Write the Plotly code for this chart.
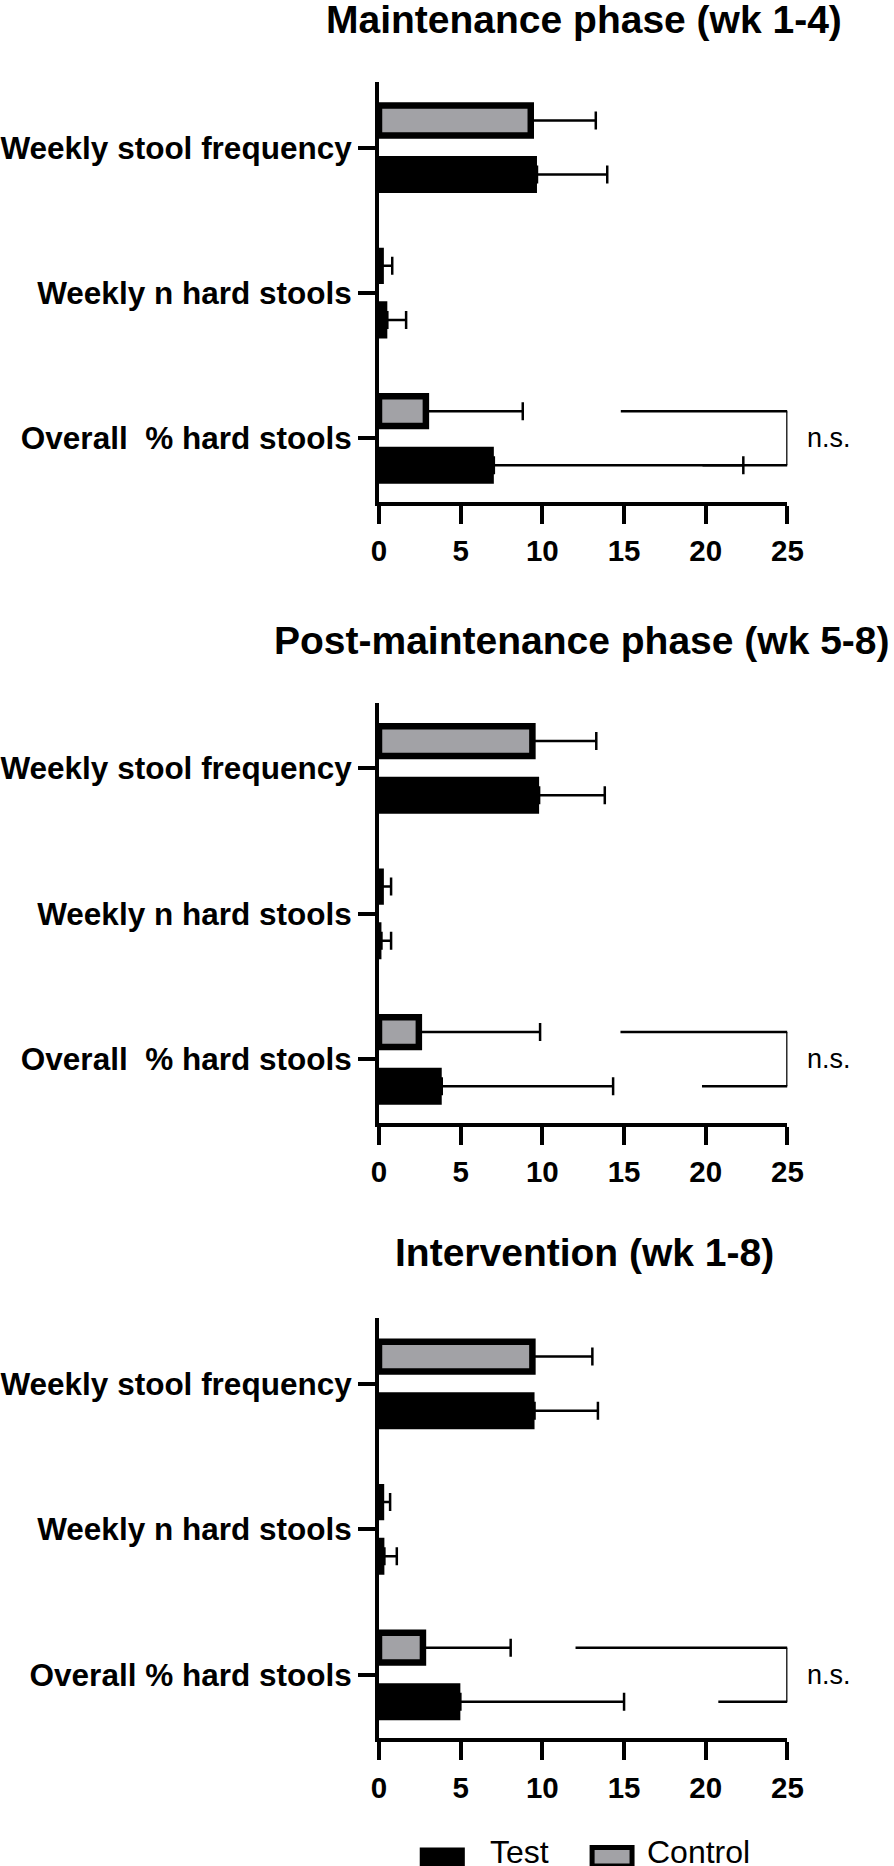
import plotly.graph_objects as go

W, H = 894, 1866          # reference frame (pixels of the target picture)
FIG_W = 909               # rendered width (the capture is squeezed into 894 px)

# ---------------- data ----------------
categories_p12 = ["Weekly stool frequency", "Weekly n hard stools", "Overall\u00a0 % hard stools"]
categories_p3 = ["Weekly stool frequency", "Weekly n hard stools", "Overall % hard stools"]
panel_titles = ["Maintenance phase (wk 1-4)", "Post-maintenance phase (wk 5-8)", "Intervention (wk 1-8)"]
series_names = ["Test", "Control"]

test_mean_p1 = [9.67, 0.51, 7.03]
test_sd_p1 = [4.30, 1.15, 15.27]
control_mean_p1 = [9.29, 0.10, 2.87]
control_sd_p1 = [3.98, 0.71, 5.93]

test_mean_p2 = [9.80, 0.15, 3.84]
test_sd_p2 = [4.02, 0.59, 10.49]
control_mean_p2 = [9.39, 0.10, 2.44]
control_sd_p2 = [3.91, 0.64, 7.42]

test_mean_p3 = [9.52, 0.33, 4.98]
test_sd_p3 = [3.88, 0.76, 10.02]
control_mean_p3 = [9.39, 0.12, 2.69]
control_sd_p3 = [3.67, 0.56, 5.37]

bracket_top_start = [14.8, 14.78, 12.03]
bracket_bottom_start = [19.8, 19.77, 20.77]
bracket_end = 25
sig_labels = ["n.s.", "n.s.", "n.s."]
x_ticks = [0, 5, 10, 15, 20, 25]

# ---------------- styling / layout ----------------
FONT = "Liberation Sans, Arial, Helvetica, sans-serif"
GRAY = "#a2a2a6"
px_x = lambda p: p / W
px_y = lambda p: 1 - p / H

plot_left, plot_right = 373.0, 787.0
panel_tops = [82.0, 702.5, 1318.0]
panel_bottoms = [501.7, 1122.7, 1738.3]
title_y = [20.0, 640.0, 1252.0]
title_x = [581.0, 579.0, 581.0]

cat_off = 0.186
test_w = 0.255
ctrl_w = 0.205
y_range = [2.437, -0.451]

panels = [
    (categories_p12, test_mean_p1, test_sd_p1, control_mean_p1, control_sd_p1),
    (categories_p12, test_mean_p2, test_sd_p2, control_mean_p2, control_sd_p2),
    (categories_p3, test_mean_p3, test_sd_p3, control_mean_p3, control_sd_p3),
]

fig = go.Figure()
shapes = []
annotations = []

for i, (cats, tm, tsd, cm, csd) in enumerate(panels):
    n = "" if i == 0 else str(i + 1)
    xa, ya = "x" + n, "y" + n
    fig.add_trace(go.Bar(
        orientation="h", y=cats, x=tm, name=series_names[0], xaxis=xa, yaxis=ya,
        width=test_w, offset=cat_off - test_w / 2,
        marker=dict(color="black", line=dict(width=0)),
        error_x=dict(type="data", array=tsd, arrayminus=[0] * len(tsd), symmetric=False,
                     color="black", thickness=2.5, width=9),
        showlegend=False,
    ))
    fig.add_trace(go.Bar(
        orientation="h", y=cats, x=cm, name=series_names[1], xaxis=xa, yaxis=ya,
        width=ctrl_w, offset=-cat_off - ctrl_w / 2,
        marker=dict(color=GRAY, line=dict(width=6.5, color="black")),
        error_x=dict(type="data", array=csd, arrayminus=[0] * len(csd), symmetric=False,
                     color="black", thickness=2.5, width=9),
        showlegend=False,
    ))
    dom_y = [px_y(panel_bottoms[i]), px_y(panel_tops[i])]
    fig.layout["xaxis" + n] = dict(
        domain=[px_x(plot_left), px_x(plot_right)], anchor=ya, range=[0, 25],
        tickvals=x_ticks, ticks="outside", ticklen=18, tickwidth=4, tickcolor="black",
        showline=True, linewidth=4, linecolor="black", showgrid=False, zeroline=False,
        tickfont=dict(family=FONT, size=29.5, color="black", weight="bold"),
        ticklabelstandoff=2,
    )
    fig.layout["yaxis" + n] = dict(
        domain=dom_y, anchor=xa, type="category", categoryarray=cats, range=y_range,
        ticks="outside", ticklen=17, tickwidth=4, tickcolor="black",
        showline=True, linewidth=4, linecolor="black", showgrid=False, zeroline=False,
        tickfont=dict(family=FONT, size=31.5, color="black", weight="bold"),
    )
    # significance bracket
    y_top = 2 - cat_off
    y_bot = 2 + cat_off
    for (x0, y0, x1, y1) in [
        (bracket_top_start[i], y_top, bracket_end, y_top),
        (bracket_end, y_top, bracket_end, y_bot),
        (bracket_bottom_start[i], y_bot, bracket_end, y_bot),
    ]:
        shapes.append(dict(type="line", xref=xa, yref=ya, x0=x0, y0=y0, x1=x1, y1=y1,
                           line=dict(color="black", width=2.5)))
    annotations.append(dict(xref="paper", yref=ya, x=px_x(829), y=2, text=sig_labels[i],
                            showarrow=False, xanchor="center", yanchor="middle",
                            font=dict(family=FONT, size=27, color="black")))
    annotations.append(dict(xref="paper", yref="paper", x=px_x(title_x[i]), y=px_y(title_y[i]),
                            text=panel_titles[i], showarrow=False, xanchor="center",
                            yanchor="middle",
                            font=dict(family=FONT, size=39, color="black", weight="bold")))

# custom legend
leg = [
    (series_names[0], 414.3, 460.0, "black", 0, 483.0),
    (series_names[1], 589.0, 629.5, GRAY, 5, 643.0),
]
for name, x0, x1, fill, lw, tx in leg:
    shapes.append(dict(type="rect", xref="paper", yref="paper",
                       x0=px_x(x0), x1=px_x(x1), y0=px_y(1847.5), y1=px_y(1866),
                       fillcolor=fill, line=dict(color="black", width=lw)))
    annotations.append(dict(xref="paper", yref="paper", x=px_x(tx), y=px_y(1852),
                            text=name, showarrow=False, xanchor="left", yanchor="middle",
                            font=dict(family=FONT, size=32, color="black")))

fig.update_layout(
    width=FIG_W, height=H, margin=dict(l=0, r=0, t=0, b=0), autosize=False,
    plot_bgcolor="white", paper_bgcolor="white", showlegend=False,
    barmode="overlay", shapes=shapes, annotations=annotations,
    font=dict(family=FONT, color="black"),
)

fig.write_html(
    "out.html",
    config={"responsive": False, "displayModeBar": False},
    post_script=(
        "document.documentElement.style.overflow='hidden';"
        "document.body.style.margin='0px';"
        "document.body.style.overflow='hidden';"
    ),
)
